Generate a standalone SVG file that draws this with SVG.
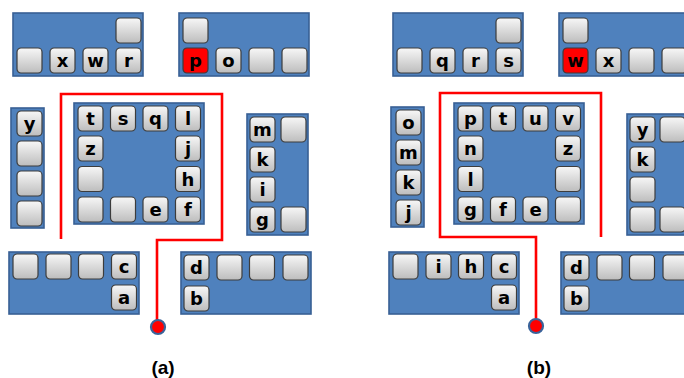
<svg xmlns="http://www.w3.org/2000/svg" width="684" height="378" viewBox="0 0 684 378">
<defs>
<linearGradient id="kg" x1="0" y1="0" x2="0" y2="1">
<stop offset="0" stop-color="#F7F7F7"/>
<stop offset="1" stop-color="#BDBDBD"/>
</linearGradient>
</defs>
<style>
.box{fill:#4F81BD;stroke:#385F94;stroke-width:1.6}
.k rect{fill:url(#kg);stroke:#3C3C3C;stroke-width:1.2}
.k.red rect{fill:#FF0000}
.k text{font-family:"DejaVu Sans",sans-serif;font-weight:bold;font-size:18px;text-anchor:middle;fill:#000}
.route{fill:none;stroke:#FF0000;stroke-width:2.6}
.dot{fill:#FF0000;stroke:#3A639A;stroke-width:2.2}
.lbl{font-family:"Liberation Sans",Arial,sans-serif;font-weight:bold;font-size:19px;text-anchor:middle;fill:#000}
</style>
<rect width="684" height="378" fill="#fff"/>

<!-- Panel (a) -->
<g id="a-top-left">
<rect class="box" x="13" y="13" width="130" height="63"/>
<g class="k" transform="translate(116,18)"><rect width="25" height="25" rx="4"/></g>
<g class="k" transform="translate(17,48)"><rect width="25" height="25" rx="4"/></g>
<g class="k" transform="translate(50,48)"><rect width="25" height="25" rx="4"/><text x="12.5" y="19">x</text></g>
<g class="k" transform="translate(83,48)"><rect width="25" height="25" rx="4"/><text x="12.5" y="19">w</text></g>
<g class="k" transform="translate(116,48)"><rect width="25" height="25" rx="4"/><text x="12.5" y="19">r</text></g>
</g>
<g id="a-top-mid">
<rect class="box" x="179" y="13" width="130" height="63"/>
<g class="k" transform="translate(183,18)"><rect width="25" height="25" rx="4"/></g>
<g class="k red" transform="translate(183,48)"><rect width="25" height="25" rx="4"/><text x="12.5" y="19">p</text></g>
<g class="k" transform="translate(216,48)"><rect width="25" height="25" rx="4"/><text x="12.5" y="19">o</text></g>
<g class="k" transform="translate(249,48)"><rect width="25" height="25" rx="4"/></g>
<g class="k" transform="translate(282,48)"><rect width="25" height="25" rx="4"/></g>
</g>
<g id="a-left-col">
<rect class="box" x="11" y="108" width="33" height="120"/>
<g class="k" transform="translate(17,111)"><rect width="25" height="25" rx="4"/><text x="12.5" y="19">y</text></g>
<g class="k" transform="translate(17,141)"><rect width="25" height="25" rx="4"/></g>
<g class="k" transform="translate(17,171)"><rect width="25" height="25" rx="4"/></g>
<g class="k" transform="translate(17,201)"><rect width="25" height="25" rx="4"/></g>
</g>
<g id="a-center">
<rect class="box" x="74" y="103" width="130" height="121"/>
<g class="k" transform="translate(78,106)"><rect width="25" height="25" rx="4"/><text x="12.5" y="19">t</text></g>
<g class="k" transform="translate(110.5,106)"><rect width="25" height="25" rx="4"/><text x="12.5" y="19">s</text></g>
<g class="k" transform="translate(143,106)"><rect width="25" height="25" rx="4"/><text x="12.5" y="19">q</text></g>
<g class="k" transform="translate(175.5,106)"><rect width="25" height="25" rx="4"/><text x="12.5" y="19">l</text></g>
<g class="k" transform="translate(78,136)"><rect width="25" height="25" rx="4"/><text x="12.5" y="19">z</text></g>
<g class="k" transform="translate(175.5,136)"><rect width="25" height="25" rx="4"/><text x="12.5" y="19">j</text></g>
<g class="k" transform="translate(78,166.5)"><rect width="25" height="25" rx="4"/></g>
<g class="k" transform="translate(175.5,166.5)"><rect width="25" height="25" rx="4"/><text x="12.5" y="19">h</text></g>
<g class="k" transform="translate(78,197)"><rect width="25" height="25" rx="4"/></g>
<g class="k" transform="translate(110.5,197)"><rect width="25" height="25" rx="4"/></g>
<g class="k" transform="translate(143,197)"><rect width="25" height="25" rx="4"/><text x="12.5" y="19">e</text></g>
<g class="k" transform="translate(175.5,197)"><rect width="25" height="25" rx="4"/><text x="12.5" y="19">f</text></g>
</g>
<g id="a-right">
<rect class="box" x="247" y="114" width="61" height="121"/>
<g class="k" transform="translate(250,117)"><rect width="25" height="25" rx="4"/><text x="12.5" y="19">m</text></g>
<g class="k" transform="translate(281,117)"><rect width="25" height="25" rx="4"/></g>
<g class="k" transform="translate(250,147)"><rect width="25" height="25" rx="4"/><text x="12.5" y="19">k</text></g>
<g class="k" transform="translate(250,177)"><rect width="25" height="25" rx="4"/><text x="12.5" y="19">i</text></g>
<g class="k" transform="translate(250,207)"><rect width="25" height="25" rx="4"/><text x="12.5" y="19">g</text></g>
<g class="k" transform="translate(281,207)"><rect width="25" height="25" rx="4"/></g>
</g>
<g id="a-bottom-left">
<rect class="box" x="9" y="252" width="130" height="62"/>
<g class="k" transform="translate(13,254)"><rect width="25" height="25" rx="4"/></g>
<g class="k" transform="translate(46,254)"><rect width="25" height="25" rx="4"/></g>
<g class="k" transform="translate(78.5,254)"><rect width="25" height="25" rx="4"/></g>
<g class="k" transform="translate(111.5,254)"><rect width="25" height="25" rx="4"/><text x="12.5" y="19">c</text></g>
<g class="k" transform="translate(111.5,285)"><rect width="25" height="25" rx="4"/><text x="12.5" y="19">a</text></g>
</g>
<g id="a-bottom-right">
<rect class="box" x="181" y="252" width="130" height="62"/>
<g class="k" transform="translate(184,255)"><rect width="25" height="25" rx="4"/><text x="12.5" y="19">d</text></g>
<g class="k" transform="translate(217,255)"><rect width="25" height="25" rx="4"/></g>
<g class="k" transform="translate(249.5,255)"><rect width="25" height="25" rx="4"/></g>
<g class="k" transform="translate(283,255)"><rect width="25" height="25" rx="4"/></g>
<g class="k" transform="translate(184,286)"><rect width="25" height="25" rx="4"/><text x="12.5" y="19">b</text></g>
</g>

<!-- Panel (b) -->
<g id="b-top-left">
<rect class="box" x="393" y="13" width="130" height="63"/>
<g class="k" transform="translate(496,18)"><rect width="25" height="25" rx="4"/></g>
<g class="k" transform="translate(397,48)"><rect width="25" height="25" rx="4"/></g>
<g class="k" transform="translate(430,48)"><rect width="25" height="25" rx="4"/><text x="12.5" y="19">q</text></g>
<g class="k" transform="translate(463,48)"><rect width="25" height="25" rx="4"/><text x="12.5" y="19">r</text></g>
<g class="k" transform="translate(496,48)"><rect width="25" height="25" rx="4"/><text x="12.5" y="19">s</text></g>
</g>
<g id="b-top-mid">
<rect class="box" x="559" y="13" width="130" height="63"/>
<g class="k" transform="translate(563,18)"><rect width="25" height="25" rx="4"/></g>
<g class="k red" transform="translate(563,48)"><rect width="25" height="25" rx="4"/><text x="12.5" y="19">w</text></g>
<g class="k" transform="translate(596,48)"><rect width="25" height="25" rx="4"/><text x="12.5" y="19">x</text></g>
<g class="k" transform="translate(629,48)"><rect width="25" height="25" rx="4"/></g>
<g class="k" transform="translate(662,48)"><rect width="25" height="25" rx="4"/></g>
</g>
<g id="b-left-col">
<rect class="box" x="391" y="107" width="33" height="120"/>
<g class="k" transform="translate(396,110)"><rect width="25" height="25" rx="4"/><text x="12.5" y="19">o</text></g>
<g class="k" transform="translate(396,140)"><rect width="25" height="25" rx="4"/><text x="12.5" y="19">m</text></g>
<g class="k" transform="translate(396,170)"><rect width="25" height="25" rx="4"/><text x="12.5" y="19">k</text></g>
<g class="k" transform="translate(396,200)"><rect width="25" height="25" rx="4"/><text x="12.5" y="19">j</text></g>
</g>
<g id="b-center">
<rect class="box" x="454" y="103" width="130" height="121"/>
<g class="k" transform="translate(458,106)"><rect width="25" height="25" rx="4"/><text x="12.5" y="19">p</text></g>
<g class="k" transform="translate(490.5,106)"><rect width="25" height="25" rx="4"/><text x="12.5" y="19">t</text></g>
<g class="k" transform="translate(523,106)"><rect width="25" height="25" rx="4"/><text x="12.5" y="19">u</text></g>
<g class="k" transform="translate(555.5,106)"><rect width="25" height="25" rx="4"/><text x="12.5" y="19">v</text></g>
<g class="k" transform="translate(458,136)"><rect width="25" height="25" rx="4"/><text x="12.5" y="19">n</text></g>
<g class="k" transform="translate(555.5,136)"><rect width="25" height="25" rx="4"/><text x="12.5" y="19">z</text></g>
<g class="k" transform="translate(458,166.5)"><rect width="25" height="25" rx="4"/><text x="12.5" y="19">l</text></g>
<g class="k" transform="translate(555.5,166.5)"><rect width="25" height="25" rx="4"/></g>
<g class="k" transform="translate(458,197)"><rect width="25" height="25" rx="4"/><text x="12.5" y="19">g</text></g>
<g class="k" transform="translate(490.5,197)"><rect width="25" height="25" rx="4"/><text x="12.5" y="19">f</text></g>
<g class="k" transform="translate(523,197)"><rect width="25" height="25" rx="4"/><text x="12.5" y="19">e</text></g>
<g class="k" transform="translate(555.5,197)"><rect width="25" height="25" rx="4"/></g>
</g>
<g id="b-right">
<rect class="box" x="627" y="114" width="61" height="121"/>
<g class="k" transform="translate(630,117)"><rect width="25" height="25" rx="4"/><text x="12.5" y="19">y</text></g>
<g class="k" transform="translate(660,117)"><rect width="25" height="25" rx="4"/></g>
<g class="k" transform="translate(630,147)"><rect width="25" height="25" rx="4"/><text x="12.5" y="19">k</text></g>
<g class="k" transform="translate(630,177)"><rect width="25" height="25" rx="4"/></g>
<g class="k" transform="translate(630,207)"><rect width="25" height="25" rx="4"/></g>
<g class="k" transform="translate(660,207)"><rect width="25" height="25" rx="4"/></g>
</g>
<g id="b-bottom-left">
<rect class="box" x="389" y="252" width="130" height="62"/>
<g class="k" transform="translate(393,254)"><rect width="25" height="25" rx="4"/></g>
<g class="k" transform="translate(426,254)"><rect width="25" height="25" rx="4"/><text x="12.5" y="19">i</text></g>
<g class="k" transform="translate(458.5,254)"><rect width="25" height="25" rx="4"/><text x="12.5" y="19">h</text></g>
<g class="k" transform="translate(491.5,254)"><rect width="25" height="25" rx="4"/><text x="12.5" y="19">c</text></g>
<g class="k" transform="translate(491.5,285)"><rect width="25" height="25" rx="4"/><text x="12.5" y="19">a</text></g>
</g>
<g id="b-bottom-right">
<rect class="box" x="561" y="252" width="130" height="62"/>
<g class="k" transform="translate(564,255)"><rect width="25" height="25" rx="4"/><text x="12.5" y="19">d</text></g>
<g class="k" transform="translate(597,255)"><rect width="25" height="25" rx="4"/></g>
<g class="k" transform="translate(629.5,255)"><rect width="25" height="25" rx="4"/></g>
<g class="k" transform="translate(663,255)"><rect width="25" height="25" rx="4"/></g>
<g class="k" transform="translate(564,286)"><rect width="25" height="25" rx="4"/><text x="12.5" y="19">b</text></g>
</g>

<g id="connectors">
<path class="route" d="M61,239 V94 H222 V240 H157 V322"/>
<circle class="dot" cx="158" cy="327" r="7"/>
<path class="route" d="M601,237 V93 H440 V237 H536 V321"/>
<circle class="dot" cx="536" cy="326" r="7"/>
</g>

<text class="lbl" x="163" y="374">(a)</text>
<text class="lbl" x="539" y="374">(b)</text>
</svg>
